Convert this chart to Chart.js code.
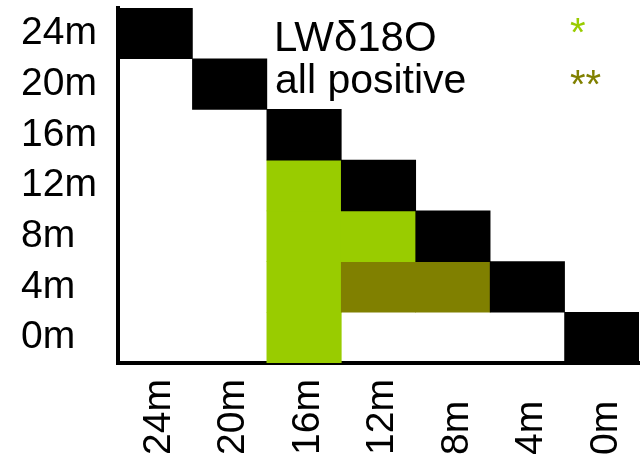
<!DOCTYPE html>
<html>
<head>
<meta charset="utf-8">
<script src="https://cdn.jsdelivr.net/npm/chart.js@4/dist/chart.umd.min.js"></script>
<style>
  html, body { margin: 0; padding: 0; background: #ffffff; }
  #wrap { width: 643px; height: 456px; }
</style>
</head>
<body>
<div id="wrap"><canvas id="c" width="643" height="456"></canvas></div>
<script>
// Depth levels, top row / left column first
const depths = ['24m', '20m', '16m', '12m', '8m', '4m', '0m'];

// Significance of each pair (row depth vs column depth):
// 0 = not significant, 1 = '*' (LWδ18O), 2 = '**' (all positive)
const significance = [
  [0, 0, 0, 0, 0, 0, 0], // 24m
  [0, 0, 0, 0, 0, 0, 0], // 20m
  [0, 0, 0, 0, 0, 0, 0], // 16m
  [0, 0, 1, 0, 0, 0, 0], // 12m
  [0, 0, 1, 1, 0, 0, 0], // 8m
  [0, 0, 1, 2, 2, 0, 0], // 4m
  [0, 0, 1, 0, 0, 0, 0]  // 0m
];

// Legend entries drawn at the top right
const legendTitles = ['LWδ18O', 'all positive'];
const legendMarks = ['*', '**'];

const levelColors = { 1: '#99cc00', 2: '#808000' };
const diagonalColor = '#000000';
const FONT = 'Liberation Sans, Arial, sans-serif';
const TICK_SIZE = 39;

// One floating-bar dataset per row; each cell spans [row, row + 1]
const datasets = depths.map((rowLabel, r) => {
  const data = [];
  const colors = [];
  depths.forEach((colLabel, c) => {
    const level = significance[r][c];
    if (r === c) {
      data.push([r, r + 1]);
      colors.push(diagonalColor);
    } else if (level > 0) {
      data.push([r, r + 1]);
      colors.push(levelColors[level]);
    } else {
      data.push(null);
      colors.push('rgba(0,0,0,0)');
    }
  });
  return {
    label: rowLabel,
    data: data,
    backgroundColor: colors,
    borderWidth: 0,
    borderSkipped: false,
    grouped: false,
    barPercentage: 1,
    categoryPercentage: 1
  };
});

// Vertical column labels, read bottom-to-top and anchored at the bottom edge
const columnLabels = {
  id: 'columnLabels',
  afterDraw(chart) {
    const ctx = chart.ctx;
    const xs = chart.scales.x;
    ctx.save();
    ctx.font = TICK_SIZE + 'px ' + FONT;
    ctx.fillStyle = '#000000';
    ctx.textAlign = 'left';
    ctx.textBaseline = 'middle';
    xs.ticks.forEach((t, i) => {
      const x = xs.getPixelForTick(i) + 4;
      ctx.save();
      ctx.translate(x, 455);
      ctx.rotate(-Math.PI / 2);
      ctx.fillText(xs.getLabelForValue(t.value), 0, 0);
      ctx.restore();
    });
    ctx.restore();
  }
};

// Text legend in the upper part of the plot
const legendText = {
  id: 'legendText',
  afterDatasetsDraw(chart) {
    const ctx = chart.ctx;
    ctx.save();
    ctx.textAlign = 'left';
    ctx.textBaseline = 'alphabetic';
    ctx.fillStyle = '#000000';
    ctx.font = '42px ' + FONT;
    ctx.fillText(legendTitles[0], 274, 51);
    ctx.font = '41px ' + FONT;
    ctx.fillText(legendTitles[1], 275, 93);
    ctx.font = '40px ' + FONT;
    ctx.fillStyle = levelColors[1];
    ctx.fillText(legendMarks[0], 570, 46);
    ctx.fillStyle = levelColors[2];
    ctx.fillText(legendMarks[1], 570, 98);
    ctx.restore();
  }
};

function noEdgePadding(scale) {
  scale.paddingLeft = 0;
  scale.paddingRight = 0;
  scale.paddingTop = 0;
  scale.paddingBottom = 0;
}

new Chart(document.getElementById('c'), {
  type: 'bar',
  data: { labels: depths, datasets: datasets },
  options: {
    responsive: false,
    animation: false,
    layout: { padding: { top: 8, right: 4, left: 21, bottom: 0 } },
    plugins: { legend: { display: false }, tooltip: { enabled: false } },
    scales: {
      x: {
        type: 'category',
        grid: { display: false, drawTicks: false },
        border: { display: true, color: '#000000', width: 4 },
        ticks: { display: false },
        afterFit(scale) { scale.height = 93; noEdgePadding(scale); }
      },
      y: {
        type: 'linear',
        min: 0,
        max: 7,
        reverse: true,
        grid: { display: false, drawTicks: false },
        border: { display: true, color: '#000000', width: 4 },
        afterBuildTicks(scale) {
          scale.ticks = depths.map((d, i) => ({ value: i + 0.5 }));
        },
        ticks: {
          color: '#000000',
          font: { size: TICK_SIZE, family: FONT },
          crossAlign: 'far',
          padding: 0,
          callback(value) { return depths[Math.floor(value)]; }
        },
        afterFit(scale) { scale.width = 97; noEdgePadding(scale); }
      }
    }
  },
  plugins: [legendText, columnLabels]
});
</script>
</body>
</html>
